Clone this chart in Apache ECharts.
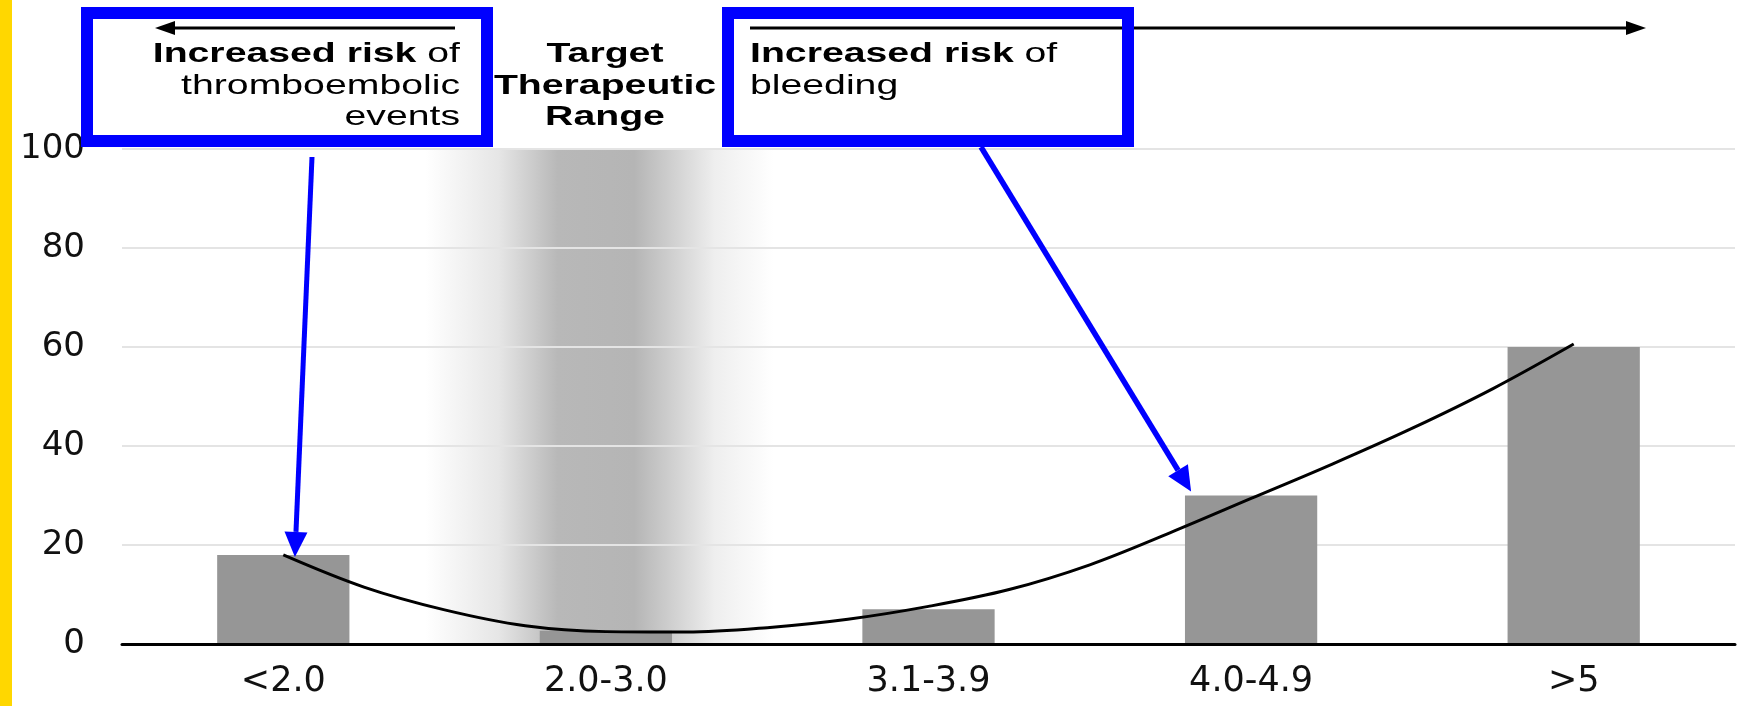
<!DOCTYPE html>
<html><head><meta charset="utf-8">
<script src="https://cdn.jsdelivr.net/npm/echarts@6/dist/echarts.min.js"></script>
<style>html,body{margin:0;padding:0;background:#fff}#c{width:1739px;height:706px}</style>
</head><body><div id="c"></div>
<script>
// ---- data ----
const categories = ['<2.0', '2.0-3.0', '3.1-3.9', '4.0-4.9', '>5'];
const barValues = [18, 2.7, 7, 30, 60];
const yTickValues = [0, 20, 40, 60, 80, 100];
// trend curve (x in category units, 0.5 = centre of first category)
const curveX = [0.5, 0.75, 1.0, 1.25, 1.5, 1.75, 2.0, 2.25, 2.5, 2.75, 3.0, 3.25, 3.5, 3.75, 4.0, 4.25, 4.5];
const curveY = [18, 11.5, 6.9, 3.7, 2.5, 2.4, 3.3, 5.0, 7.6, 11, 16, 22.5, 29.4, 36.3, 43.6, 51.6, 60.6];
// target therapeutic range band (category units)
const bandRange = [0.94, 2.02];
// annotation arrow tips (data space)
const leftArrowTip = [0.536, 17.6];
const rightArrowTip = [3.314, 30.8];
const leftBoxLines = ['{b|Increased risk} of', 'thromboembolic', 'events'];
const midLines = ['Target', 'Therapeutic', 'Range'];
const rightBoxLines = ['{b|Increased risk} of', 'bleeding'];

const chart = echarts.init(document.getElementById('c'), null, {renderer: 'canvas'});
const curveData = curveX.map((x, i) => [x, curveY[i]]);
const gridColor = '#e4e4e4';
const gap = 0.2; // leaves the grid lines visible through the band

const bandGradient = new echarts.graphic.LinearGradient(0, 0, 1, 0, [
  {offset: 0, color: '#ffffff'},
  {offset: 0.21, color: '#e6e6e6'},
  {offset: 0.38, color: '#b8b8b8'},
  {offset: 0.6, color: '#b5b5b5'},
  {offset: 0.73, color: '#d5d5d5'},
  {offset: 0.83, color: '#eeeeee'},
  {offset: 1, color: '#ffffff'}
]);
const bandPieces = [];
for (let i = 0; i < yTickValues.length - 1; i++) {
  bandPieces.push([
    {xAxis: bandRange[0], yAxis: yTickValues[i] + (i === 0 ? 0 : gap)},
    {xAxis: bandRange[1], yAxis: yTickValues[i + 1] - gap}
  ]);
}

chart.setOption({
  animation: false,
  backgroundColor: '#fff',
  grid: {left: 122, right: 4, top: 149, bottom: 62, containLabel: false, outerBoundsMode: 'none'},
  xAxis: [{
    type: 'category', data: categories, z: 8,
    axisLine: {show: true, lineStyle: {color: '#000', width: 3}},
    axisTick: {show: false},
    axisLabel: {interval: 0, margin: 20, fontFamily: 'DejaVu Sans', fontSize: 35, color: '#111'},
    splitLine: {show: false}
  }, {
    type: 'value', min: 0, max: 5, show: false
  }],
  yAxis: {
    type: 'value', min: yTickValues[0], max: yTickValues[yTickValues.length - 1], interval: 20,
    axisLine: {show: false}, axisTick: {show: false},
    axisLabel: {margin: 37, fontFamily: 'DejaVu Sans', fontSize: 34, color: '#111'},
    splitLine: {show: true, lineStyle: {color: gridColor, width: 2}}
  },
  series: [{
    type: 'line', xAxisIndex: 1, data: [], z: 0, silent: true,
    markArea: {
      silent: true,
      itemStyle: {color: bandGradient},
      data: bandPieces
    }
  }, {
    type: 'bar', data: barValues, barWidth: '41%', z: 6,
    itemStyle: {color: '#969696'}
  }, {
    type: 'line', xAxisIndex: 1, data: curveData, smooth: 0.35, showSymbol: false, z: 7,
    lineStyle: {color: '#000', width: 3}
  }]
});

function arrow(x0, y0, x1, y1, w, headLen, headHalf, color) {
  const dx = x1 - x0, dy = y1 - y0, L = Math.hypot(dx, dy);
  const ux = dx / L, uy = dy / L, px = -uy, py = ux;
  const bx = x1 - ux * headLen, by = y1 - uy * headLen;
  return [
    {type: 'line', z: 100, shape: {x1: x0, y1: y0, x2: bx, y2: by}, style: {stroke: color, lineWidth: w}},
    {type: 'polygon', z: 100, shape: {points: [[x1, y1], [bx + px * headHalf, by + py * headHalf], [bx - px * headHalf, by - py * headHalf]]}, style: {fill: color}}
  ];
}

const font = 'Liberation Sans';
function txt(s, x, y, align, bold) {
  return {
    type: 'text', z: 100, x: x, y: y, scaleX: 1.4,
    style: {
      text: s, fontFamily: font, fontSize: 28, fontWeight: bold ? 'bold' : 'normal',
      fill: '#000', align: align, verticalAlign: 'middle',
      rich: {b: {fontFamily: font, fontSize: 28, fontWeight: 'bold', fill: '#000'}}
    }
  };
}

const lt = chart.convertToPixel({xAxisIndex: 1, yAxisIndex: 0}, leftArrowTip);
const rt = chart.convertToPixel({xAxisIndex: 1, yAxisIndex: 0}, rightArrowTip);
const lineYs = [54, 86, 117];

const graphics = [
  {type: 'rect', z: 100, shape: {x: 0, y: 0, width: 12, height: 706}, style: {fill: '#FFD700'}},
  // top black arrows
  ...arrow(455, 28, 155, 28, 3, 20, 7, '#000'),
  ...arrow(750, 28, 1646, 28, 3, 20, 7, '#000'),
  // boxes
  {type: 'rect', z: 101, shape: {x: 87, y: 13, width: 400, height: 128}, style: {fill: 'transparent', stroke: '#0000ff', lineWidth: 12}},
  {type: 'rect', z: 101, shape: {x: 728, y: 13, width: 400, height: 128}, style: {fill: 'transparent', stroke: '#0000ff', lineWidth: 12}},
  // blue arrows
  ...arrow(312, 157, lt[0], lt[1], 5, 25, 11.5, '#0000ff'),
  ...arrow(981, 147, rt[0], rt[1], 5.5, 25, 11.5, '#0000ff')
];
leftBoxLines.forEach((s, i) => graphics.push(txt(s, 460, lineYs[i], 'right', false)));
midLines.forEach((s, i) => graphics.push(txt(s, 605, lineYs[i], 'center', true)));
rightBoxLines.forEach((s, i) => graphics.push(txt(s, 750, lineYs[i], 'left', false)));

chart.setOption({graphic: graphics});
</script></body></html>
